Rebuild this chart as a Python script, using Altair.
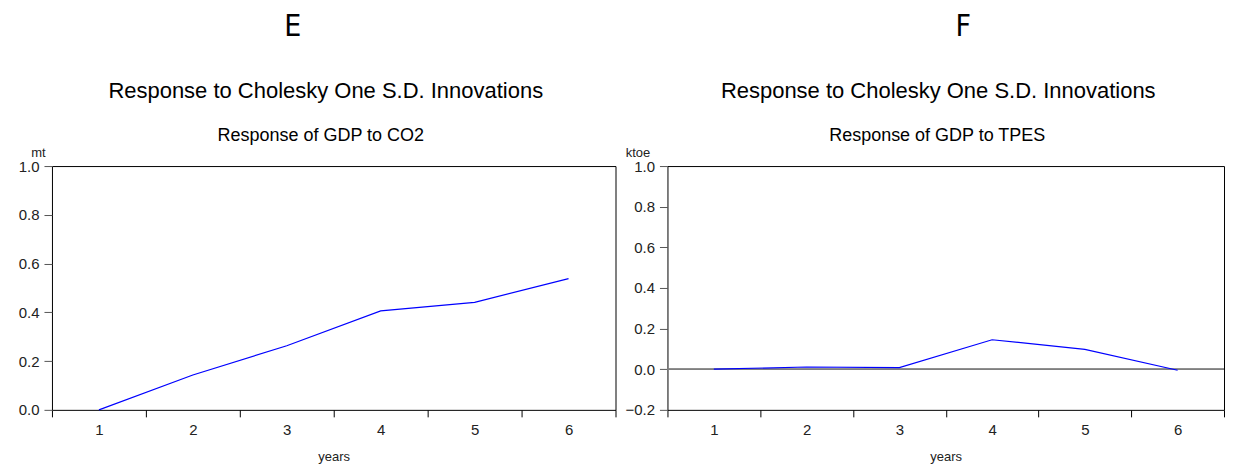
import altair as alt
import pandas as pd

# ---- data ----
years = [1, 2, 3, 4, 5, 6]
gdp_to_co2 = [0.0, 0.143, 0.263, 0.406, 0.441, 0.538]
gdp_to_tpes = [0.0, 0.011, 0.008, 0.145, 0.098, -0.005]

panel_letters = ["E", "F"]
main_title = "Response to Cholesky One S.D. Innovations"
sub_titles = ["Response of GDP to CO2", "Response of GDP to TPES"]
units = ["mt", "ktoe"]
y_ticks_left = [0.0, 0.2, 0.4, 0.6, 0.8, 1.0]
y_ticks_right = [-0.2, 0.0, 0.2, 0.4, 0.6, 0.8, 1.0]

FONT = "Liberation Sans"
LETTER_FONT = "'DejaVu Sans Condensed', 'DejaVu Sans', sans-serif"
x_tick_values = sorted(set([y - 0.5 for y in years] + years + [years[-1] + 0.5]))


def text_layer(txt, font, size, x, y):
    return alt.Chart(pd.DataFrame({"t": [txt]})).mark_text(
        font=font, fontSize=size, baseline="middle", align="center", color="#000000"
    ).encode(text="t:N", x=alt.value(x), y=alt.value(y))


def make_panel(values, ydomain, yticks, unit, letter, letter_x, title_x, sub_x,
               subtitle, width, unit_x, zero_line):
    df = pd.DataFrame({"year": years, "value": values})
    xaxis = alt.Axis(
        values=x_tick_values,
        labelExpr="datum.value % 1 == 0 ? format(datum.value, 'd') : ''",
        tickOpacity={"condition": {"test": "datum.value % 1 == 0", "value": 0}, "value": 1},
        tickColor="#000000",
        tickSize=7,
        labelPadding=6,
        labelFontSize=15,
        labelFont=FONT,
        labelColor="#222222",
        domain=False,
        grid=False,
        title="years",
        titleFont=FONT,
        titleFontSize=13,
        titleFontWeight="normal",
        titleColor="#222222",
        titlePadding=13,
    )
    yaxis = alt.Axis(
        values=yticks,
        format=".1f",
        tickColor="#555555",
        tickSize=8,
        labelPadding=5,
        labelFontSize=15,
        labelFont=FONT,
        labelColor="#222222",
        domain=False,
        grid=False,
        title=unit,
        titleFont=FONT,
        titleFontSize=13,
        titleFontWeight="normal",
        titleColor="#222222",
        titleAngle=0,
        titleAlign="center",
        titleBaseline="alphabetic",
        titleX=unit_x,
        titleY=-10,
    )
    line = alt.Chart(df).mark_line(color="#0000FF", strokeWidth=1.2).encode(
        x=alt.X("year:Q", scale=alt.Scale(domain=[0.5, 6.5], nice=False, zero=False), axis=xaxis),
        y=alt.Y("value:Q", scale=alt.Scale(domain=ydomain, nice=False, zero=False), axis=yaxis),
    )
    layers = []
    if zero_line:
        rule = alt.Chart(df).mark_rule(color="#808080", strokeWidth=1).encode(y=alt.datum(0))
        layers.append(rule)
    layers.append(line)
    layers.append(text_layer(letter, LETTER_FONT, 30, letter_x, -139))
    layers.append(text_layer(main_title, FONT, 22, title_x, -75))
    layers.append(text_layer(subtitle, FONT, 18, sub_x, -30))
    return alt.layer(*layers).properties(width=width, height=244)


left = make_panel(gdp_to_co2, [0, 1], y_ticks_left, units[0], panel_letters[0], 241, 274, 269,
                  sub_titles[0], 564, -14, False)
right = make_panel(gdp_to_tpes, [-0.2, 1], y_ticks_right, units[1], panel_letters[1], 296, 271, 270,
                   sub_titles[1], 557, -30, True)

chart = alt.hconcat(left, right, spacing=7).properties(
    padding={"left": 9, "top": 3, "right": 0, "bottom": 0}
).configure_view(stroke="#000000", strokeWidth=1)

chart.save("out.html", embed_options={"renderer": "svg", "actions": False})
